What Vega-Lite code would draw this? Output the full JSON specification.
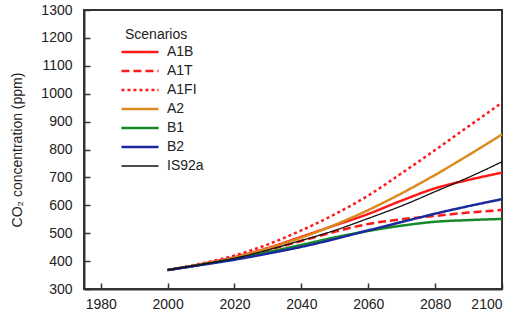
{
  "$schema": "https://vega.github.io/schema/vega-lite/v6.json",
  "width": 418,
  "height": 279,
  "autosize": "none",
  "padding": {"left": 84, "top": 10, "right": 20, "bottom": 37},
  "background": "white",
  "config": {
    "font": "Liberation Sans",
    "view": {"stroke": "#333", "strokeWidth": 2},
    "axis": {
      "labelFont": "Liberation Sans",
      "labelFontSize": 14,
      "labelColor": "#222",
      "titleFont": "Liberation Sans",
      "titleFontSize": 14,
      "titleFontWeight": "normal",
      "titleColor": "#222",
      "domainColor": "#333",
      "domainWidth": 2,
      "tickColor": "#333",
      "tickWidth": 1.5,
      "tickSize": -6,
      "grid": false
    }
  },
  "data": {
    "values": [
      {"year": 2000, "series": "A1B", "co2": 368}, {"year": 2010, "series": "A1B", "co2": 389}, {"year": 2020, "series": "A1B", "co2": 414}, {"year": 2030, "series": "A1B", "co2": 447}, {"year": 2040, "series": "A1B", "co2": 487}, {"year": 2050, "series": "A1B", "co2": 528}, {"year": 2060, "series": "A1B", "co2": 569}, {"year": 2070, "series": "A1B", "co2": 617}, {"year": 2080, "series": "A1B", "co2": 661}, {"year": 2090, "series": "A1B", "co2": 691}, {"year": 2100, "series": "A1B", "co2": 717},
      {"year": 2000, "series": "A1T", "co2": 368}, {"year": 2010, "series": "A1T", "co2": 388}, {"year": 2020, "series": "A1T", "co2": 411}, {"year": 2030, "series": "A1T", "co2": 440}, {"year": 2040, "series": "A1T", "co2": 472}, {"year": 2050, "series": "A1T", "co2": 505}, {"year": 2060, "series": "A1T", "co2": 533}, {"year": 2070, "series": "A1T", "co2": 550}, {"year": 2080, "series": "A1T", "co2": 562}, {"year": 2090, "series": "A1T", "co2": 574}, {"year": 2100, "series": "A1T", "co2": 583},
      {"year": 2000, "series": "A1FI", "co2": 368}, {"year": 2010, "series": "A1FI", "co2": 391}, {"year": 2020, "series": "A1FI", "co2": 420}, {"year": 2030, "series": "A1FI", "co2": 460}, {"year": 2040, "series": "A1FI", "co2": 510}, {"year": 2050, "series": "A1FI", "co2": 568}, {"year": 2060, "series": "A1FI", "co2": 635}, {"year": 2070, "series": "A1FI", "co2": 715}, {"year": 2080, "series": "A1FI", "co2": 798}, {"year": 2090, "series": "A1FI", "co2": 883}, {"year": 2100, "series": "A1FI", "co2": 968},
      {"year": 2000, "series": "A2", "co2": 368}, {"year": 2010, "series": "A2", "co2": 388}, {"year": 2020, "series": "A2", "co2": 412}, {"year": 2030, "series": "A2", "co2": 445}, {"year": 2040, "series": "A2", "co2": 484}, {"year": 2050, "series": "A2", "co2": 530}, {"year": 2060, "series": "A2", "co2": 583}, {"year": 2070, "series": "A2", "co2": 643}, {"year": 2080, "series": "A2", "co2": 709}, {"year": 2090, "series": "A2", "co2": 780}, {"year": 2100, "series": "A2", "co2": 854},
      {"year": 2000, "series": "B1", "co2": 368}, {"year": 2010, "series": "B1", "co2": 387}, {"year": 2020, "series": "B1", "co2": 408}, {"year": 2030, "series": "B1", "co2": 432}, {"year": 2040, "series": "B1", "co2": 458}, {"year": 2050, "series": "B1", "co2": 485}, {"year": 2060, "series": "B1", "co2": 508}, {"year": 2070, "series": "B1", "co2": 527}, {"year": 2080, "series": "B1", "co2": 541}, {"year": 2090, "series": "B1", "co2": 547}, {"year": 2100, "series": "B1", "co2": 551},
      {"year": 2000, "series": "B2", "co2": 368}, {"year": 2010, "series": "B2", "co2": 386}, {"year": 2020, "series": "B2", "co2": 405}, {"year": 2030, "series": "B2", "co2": 427}, {"year": 2040, "series": "B2", "co2": 451}, {"year": 2050, "series": "B2", "co2": 479}, {"year": 2060, "series": "B2", "co2": 510}, {"year": 2070, "series": "B2", "co2": 540}, {"year": 2080, "series": "B2", "co2": 570}, {"year": 2090, "series": "B2", "co2": 597}, {"year": 2100, "series": "B2", "co2": 622},
      {"year": 2000, "series": "IS92a", "co2": 368}, {"year": 2010, "series": "IS92a", "co2": 388}, {"year": 2020, "series": "IS92a", "co2": 410}, {"year": 2030, "series": "IS92a", "co2": 440}, {"year": 2040, "series": "IS92a", "co2": 474}, {"year": 2050, "series": "IS92a", "co2": 510}, {"year": 2060, "series": "IS92a", "co2": 553}, {"year": 2070, "series": "IS92a", "co2": 598}, {"year": 2080, "series": "IS92a", "co2": 649}, {"year": 2090, "series": "IS92a", "co2": 700}, {"year": 2100, "series": "IS92a", "co2": 756}
    ]
  },
  "mark": {"type": "line", "interpolate": "monotone"},
  "encoding": {
    "x": {
      "field": "year", "type": "quantitative",
      "scale": {"domain": [1975, 2100], "nice": false, "zero": false},
      "axis": {"values": [1980, 2000, 2020, 2040, 2060, 2080, 2100], "format": "d", "title": null, "labelPadding": 14}
    },
    "y": {
      "field": "co2", "type": "quantitative",
      "scale": {"domain": [300, 1300], "nice": false, "zero": false},
      "axis": {"values": [300, 400, 500, 600, 700, 800, 900, 1000, 1100, 1200, 1300], "format": "d", "title": "CO₂ concentration (ppm)", "labelPadding": 18, "titlePadding": 16}
    },
    "color": {
      "field": "series", "type": "nominal",
      "scale": {"domain": ["A1B", "A1T", "A1FI", "A2", "B1", "B2", "IS92a"], "range": ["#ff1a1a", "#ff1a1a", "#ff1a1a", "#dd8a22", "#168a2a", "#1a2a9a", "#111111"]},
      "legend": {
        "title": "Scenarios",
        "orient": "none",
        "legendX": 41,
        "legendY": 18,
        "titleFont": "Liberation Sans",
        "titleFontSize": 14,
        "titleFontWeight": "normal",
        "titleColor": "#222",
        "titlePadding": 3,
        "labelFont": "Liberation Sans",
        "labelFontSize": 14,
        "labelColor": "#222",
        "symbolType": "M-4,0L4,0",
        "symbolSize": 86,
        "symbolOffset": 8,
        "labelOffset": 20,
        "rowPadding": 5,
        "symbolStrokeWidth": 2.5,
        "encode": {"symbols": {"update": {"strokeWidth": {"signal": "datum.value === 'IS92a' ? 1.3 : 2.5"}}}}
      }
    },
    "strokeDash": {
      "field": "series", "type": "nominal",
      "scale": {"domain": ["A1B", "A1T", "A1FI", "A2", "B1", "B2", "IS92a"], "range": [[1, 0], [8, 4], [3, 3], [1, 0], [1, 0], [1, 0], [1, 0]]},
      "legend": {"title": "Scenarios"}
    },
    "strokeWidth": {
      "condition": {"test": "datum.series === 'IS92a'", "value": 1.3},
      "value": 2.5
    }
  }
}
